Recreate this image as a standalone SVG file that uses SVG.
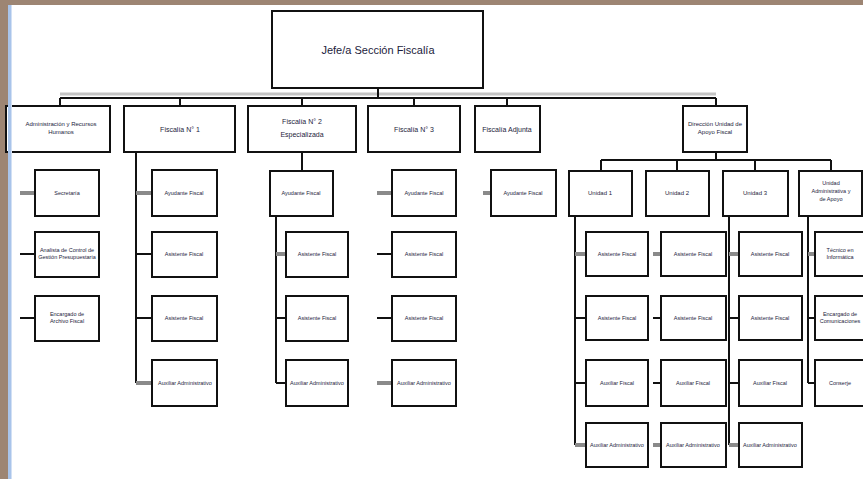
<svg xmlns="http://www.w3.org/2000/svg" width="863" height="479" viewBox="0 0 863 479">
<style>
.box{fill:#fff;stroke:#111;stroke-width:2}
.ln{stroke:#111;stroke-width:2;fill:none}
.gl{stroke:#8a8a8a;stroke-width:4;fill:none}
.t{font-family:"Liberation Sans",Arial,sans-serif;fill:#1c1c3c;text-anchor:middle}
.s{font-size:5.5px}
.m{font-size:6px}
.b{font-size:7px}
</style>
<rect x="0" y="0" width="863" height="479" fill="#9d8573"/>
<rect x="12" y="5" width="851" height="474" fill="#fff"/>
<g id="connectors">
  <line x1="60" y1="94" x2="716" y2="94" stroke="#c4c4c4" stroke-width="3"/>
  <line class="ln" x1="378" y1="88" x2="378" y2="98"/>
  <line class="ln" x1="60" y1="98" x2="716" y2="98"/>
  <line class="ln" x1="60" y1="98" x2="60" y2="106"/>
  <line class="ln" x1="180" y1="98" x2="180" y2="106"/>
  <line class="ln" x1="302" y1="98" x2="302" y2="106"/>
  <line class="ln" x1="414" y1="98" x2="414" y2="106"/>
  <line class="ln" x1="507" y1="98" x2="507" y2="106"/>
  <line class="ln" x1="716" y1="98" x2="716" y2="106"/>
  <!-- col 1 -->
  <line class="gl" x1="20" y1="193" x2="35" y2="193"/>
  <line class="ln" x1="20" y1="254" x2="35" y2="254"/>
  <line class="ln" x1="20" y1="318" x2="35" y2="318"/>
  <!-- col 2 -->
  <line class="ln" x1="136" y1="152" x2="136" y2="383"/>
  <line class="gl" x1="136" y1="193" x2="152" y2="193"/>
  <line class="ln" x1="136" y1="254" x2="152" y2="254"/>
  <line class="ln" x1="136" y1="318" x2="152" y2="318"/>
  <line class="gl" x1="136" y1="383" x2="152" y2="383"/>
  <!-- col 3 -->
  <line class="ln" x1="302" y1="152" x2="302" y2="171"/>
  <line class="ln" x1="276" y1="216" x2="276" y2="383"/>
  <line class="gl" x1="276" y1="254" x2="286" y2="254"/>
  <line class="ln" x1="276" y1="318" x2="286" y2="318"/>
  <line class="ln" x1="276" y1="383" x2="286" y2="383"/>
  <!-- col 4 -->
  <line class="gl" x1="377" y1="193" x2="392" y2="193"/>
  <line class="ln" x1="377" y1="254" x2="392" y2="254"/>
  <line class="ln" x1="377" y1="318" x2="392" y2="318"/>
  <line class="gl" x1="377" y1="383" x2="392" y2="383"/>
  <!-- col 5 -->
  <line class="gl" x1="483" y1="193" x2="491" y2="193"/>
  <!-- right section -->
  <line class="ln" x1="716" y1="152" x2="716" y2="160"/>
  <line class="ln" x1="601" y1="160" x2="831" y2="160"/>
  <line class="ln" x1="601" y1="160" x2="601" y2="171"/>
  <line class="ln" x1="677" y1="160" x2="677" y2="171"/>
  <line class="ln" x1="755" y1="160" x2="755" y2="171"/>
  <line class="ln" x1="831" y1="160" x2="831" y2="171"/>
  <line class="ln" x1="575" y1="216" x2="575" y2="445"/>
  <line class="gl" x1="575" y1="254" x2="586" y2="254"/>
  <line class="ln" x1="575" y1="318" x2="586" y2="318"/>
  <line class="ln" x1="575" y1="383" x2="586" y2="383"/>
  <line class="gl" x1="575" y1="445" x2="586" y2="445"/>
  <line class="gl" x1="653" y1="254" x2="661" y2="254"/>
  <line class="ln" x1="653" y1="318" x2="661" y2="318"/>
  <line class="ln" x1="653" y1="383" x2="661" y2="383"/>
  <line class="gl" x1="653" y1="445" x2="661" y2="445"/>
  <line class="ln" x1="729" y1="216" x2="729" y2="445"/>
  <line class="gl" x1="729" y1="254" x2="739" y2="254"/>
  <line class="ln" x1="729" y1="318" x2="739" y2="318"/>
  <line class="ln" x1="729" y1="383" x2="739" y2="383"/>
  <line class="gl" x1="729" y1="445" x2="739" y2="445"/>
  <line class="ln" x1="808" y1="216" x2="808" y2="383"/>
  <line class="gl" x1="808" y1="254" x2="815" y2="254"/>
  <line class="ln" x1="808" y1="318" x2="815" y2="318"/>
  <line class="ln" x1="808" y1="383" x2="815" y2="383"/>
</g>
<g id="n-top"><rect class="box" x="272" y="11" width="211" height="77"/><text class="t" x="378" y="54" font-size="11">Jefe/a Sección Fiscalía</text></g>
<g id="n-adm"><rect class="box" x="6" y="106" width="104" height="46"/><text class="t m" x="61" y="126">Administración y Recursos</text><text class="t m" x="61" y="134">Humanos</text></g>
<g id="n-f1"><rect class="box" x="124" y="106" width="111" height="46"/><text class="t b" x="180" y="132">Fiscalía N° 1</text></g>
<g id="n-f2"><rect class="box" x="248" y="106" width="108" height="46"/><text class="t b" x="302" y="124">Fiscalía N° 2</text><text class="t b" x="302" y="137">Especializada</text></g>
<g id="n-f3"><rect class="box" x="368" y="106" width="92" height="46"/><text class="t b" x="414" y="132">Fiscalía N° 3</text></g>
<g id="n-fl"><rect class="box" x="475" y="106" width="65" height="46"/><text class="t b" x="507" y="132">Fiscalía Adjunta</text></g>
<g id="n-dir"><rect class="box" x="683" y="106" width="64" height="46"/><text class="t m" x="715" y="126">Dirección Unidad de</text><text class="t m" x="715" y="134">Apoyo Fiscal</text></g>

<g id="n-adm-1"><rect class="box" x="35" y="170" width="64" height="46"/><text class="t s" x="67" y="195">Secretaría</text></g>
<g id="n-adm-2"><rect class="box" x="35" y="232" width="64" height="45"/><text class="t s" x="67" y="252">Analista de Control de</text><text class="t s" x="67" y="259">Gestión Presupuestaria</text></g>
<g id="n-adm-3"><rect class="box" x="35" y="296" width="64" height="45"/><text class="t s" x="67" y="316">Encargado de</text><text class="t s" x="67" y="323">Archivo Fiscal</text></g>

<g id="n-f1-1"><rect class="box" x="152" y="170" width="65" height="46"/><text class="t s" x="184" y="195">Ayudante Fiscal</text></g>
<g id="n-f1-2"><rect class="box" x="152" y="232" width="65" height="45"/><text class="t s" x="184" y="256">Asistente Fiscal</text></g>
<g id="n-f1-3"><rect class="box" x="152" y="296" width="65" height="45"/><text class="t s" x="184" y="320">Asistente Fiscal</text></g>
<g id="n-f1-4"><rect class="box" x="152" y="360" width="65" height="46"/><text class="t s" x="185" y="385">Auxiliar Administrativo</text></g>

<g id="n-f2-1"><rect class="box" x="270" y="171" width="63" height="45"/><text class="t s" x="301" y="195">Ayudante Fiscal</text></g>
<g id="n-f2-2"><rect class="box" x="286" y="232" width="62" height="45"/><text class="t s" x="317" y="256">Asistente Fiscal</text></g>
<g id="n-f2-3"><rect class="box" x="286" y="296" width="62" height="45"/><text class="t s" x="317" y="320">Asistente Fiscal</text></g>
<g id="n-f2-4"><rect class="box" x="286" y="360" width="62" height="46"/><text class="t s" x="317" y="385">Auxiliar Administrativo</text></g>

<g id="n-f3-1"><rect class="box" x="392" y="170" width="64" height="46"/><text class="t s" x="424" y="195">Ayudante Fiscal</text></g>
<g id="n-f3-2"><rect class="box" x="392" y="232" width="64" height="45"/><text class="t s" x="424" y="256">Asistente Fiscal</text></g>
<g id="n-f3-3"><rect class="box" x="392" y="296" width="64" height="45"/><text class="t s" x="424" y="320">Asistente Fiscal</text></g>
<g id="n-f3-4"><rect class="box" x="392" y="360" width="64" height="46"/><text class="t s" x="424" y="385">Auxiliar Administrativo</text></g>

<g id="n-fl-1"><rect class="box" x="491" y="170" width="65" height="46"/><text class="t s" x="523" y="195">Ayudante Fiscal</text></g>

<g id="n-u1"><rect class="box" x="569" y="171" width="63" height="45"/><text class="t m" x="600" y="195">Unidad 1</text></g>
<g id="n-u2"><rect class="box" x="646" y="171" width="63" height="45"/><text class="t m" x="677" y="195">Unidad 2</text></g>
<g id="n-u3"><rect class="box" x="723" y="171" width="65" height="45"/><text class="t m" x="755" y="195">Unidad 3</text></g>
<g id="n-u4"><rect class="box" x="799" y="171" width="63" height="45"/><text class="t s" x="831" y="185">Unidad</text><text class="t s" x="831" y="193">Administrativa y</text><text class="t s" x="831" y="201">de Apoyo</text></g>

<g id="n-u1-1"><rect class="box" x="586" y="232" width="62" height="44"/><text class="t s" x="617" y="256">Asistente Fiscal</text></g>
<g id="n-u1-2"><rect class="box" x="586" y="296" width="62" height="44"/><text class="t s" x="617" y="320">Asistente Fiscal</text></g>
<g id="n-u1-3"><rect class="box" x="586" y="360" width="62" height="46"/><text class="t s" x="617" y="385">Auxiliar Fiscal</text></g>
<g id="n-u1-4"><rect class="box" x="586" y="423" width="62" height="44"/><text class="t s" x="617" y="447">Auxiliar Administrativo</text></g>

<g id="n-u2-1"><rect class="box" x="661" y="232" width="65" height="44"/><text class="t s" x="693" y="256">Asistente Fiscal</text></g>
<g id="n-u2-2"><rect class="box" x="661" y="296" width="65" height="44"/><text class="t s" x="693" y="320">Asistente Fiscal</text></g>
<g id="n-u2-3"><rect class="box" x="661" y="360" width="65" height="46"/><text class="t s" x="693" y="385">Auxiliar Fiscal</text></g>
<g id="n-u2-4"><rect class="box" x="661" y="423" width="65" height="44"/><text class="t s" x="693" y="447">Auxiliar Administrativo</text></g>

<g id="n-u3-1"><rect class="box" x="739" y="232" width="63" height="44"/><text class="t s" x="770" y="256">Asistente Fiscal</text></g>
<g id="n-u3-2"><rect class="box" x="739" y="296" width="63" height="44"/><text class="t s" x="770" y="320">Asistente Fiscal</text></g>
<g id="n-u3-3"><rect class="box" x="739" y="360" width="63" height="46"/><text class="t s" x="770" y="385">Auxiliar Fiscal</text></g>
<g id="n-u3-4"><rect class="box" x="739" y="423" width="63" height="44"/><text class="t s" x="770" y="447">Auxiliar Administrativo</text></g>

<g id="n-u4-1"><rect class="box" x="815" y="232" width="52" height="44"/><text class="t s" x="840" y="252">Técnico en</text><text class="t s" x="840" y="259">Informática</text></g>
<g id="n-u4-2"><rect class="box" x="815" y="296" width="52" height="44"/><text class="t s" x="840" y="316">Encargado de</text><text class="t s" x="840" y="323">Comunicaciones</text></g>
<g id="n-u4-3"><rect class="box" x="815" y="360" width="52" height="46"/><text class="t s" x="840" y="385">Conserje</text></g>

<rect x="8" y="5" width="4" height="474" fill="#a9c4ea"/>
<rect x="11" y="5" width="1" height="474" fill="#d2e0f4"/>
</svg>
